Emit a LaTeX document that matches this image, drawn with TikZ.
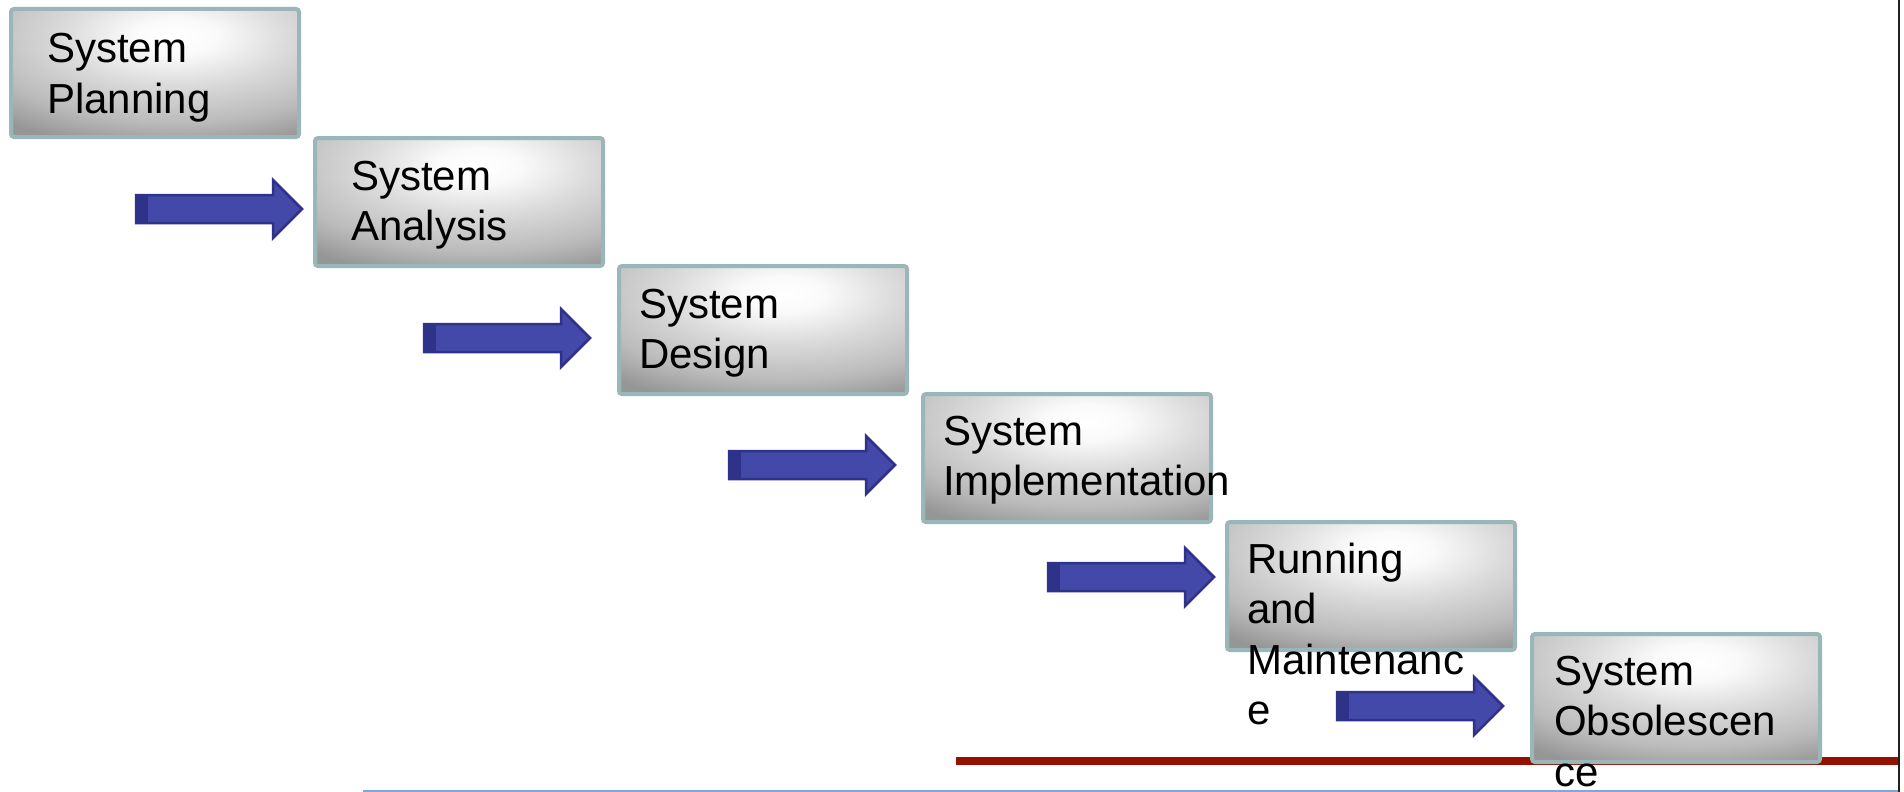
\documentclass[tikz,border=0pt]{standalone}
\usepackage{fontspec}
\setmainfont{Liberation Sans}
\definecolor{boxedge}{HTML}{99B6B8}
\definecolor{boxmid}{HTML}{DADADA}
\definecolor{boxside}{HTML}{BBBBBB}
\definecolor{boxdark}{HTML}{969696}
\definecolor{arrowfill}{HTML}{4349A8}
\definecolor{arrowedge}{HTML}{2E3288}
\definecolor{rulered}{HTML}{951000}
\definecolor{ruleblue}{HTML}{7EA6E0}
% soft highlight laid over the grey fill of each box
% (the shaded path is fitted to the central 50bp square, so 25bp is its rim)
\pgfdeclareradialshading{boxglow}{\pgfpoint{0bp}{0bp}}{%
  color(0bp)=(white); color(4bp)=(white!98!black); color(11bp)=(boxmid);
  color(19bp)=(boxside); color(25bp)=(boxdark); color(50bp)=(boxdark)}
\tikzset{
  stepbox/.style={rectangle, rounded corners=3pt, draw=boxedge, line width=4pt,
    minimum width=288pt, minimum height=128pt, inner sep=0pt, fill=boxdark,
    path picture={\shade[shading=boxglow]
      ([xshift=20pt,yshift=-28pt]path picture bounding box.north)
      ellipse [x radius=260pt, y radius=112pt];}},
  steptext/.style={anchor=base west, inner sep=0pt, text=black,
    font=\fontsize{42}{50.5}\selectfont},
  pics/blockarrow/.style={code={
    \fill[arrowfill, draw=arrowedge, line width=2.5pt, line join=miter]
      (0,-14) -- (137,-14) -- (137,-29) -- (166,0) -- (137,29) -- (137,14) -- (0,14) -- cycle;
    \fill[arrowedge] (0,-15.25) rectangle (12,15.25);
  }}
}
\begin{document}
\begin{tikzpicture}[x=1pt, y=-1pt]
\useasboundingbox[fill=white] (0,0) rectangle (1904,792);

% rules along the bottom and right edge
\draw[line width=8pt, rulered] (956,761) -- (1898,761);
\draw[line width=1.5pt, ruleblue] (363,791) -- (1898,791);
\draw[line width=2.5pt, black!87] (1899,0) -- (1899,792);

% the six stages
\node[stepbox] (b1) at (155,73) {};
\node[stepbox] (b2) at (459,202) {};
\node[stepbox] (b3) at (763,330) {};
\node[stepbox] (b4) at (1067,458) {};
\node[stepbox] (b5) at (1371,586) {};
\node[stepbox] (b6) at (1676,698) {};

% block arrows between the stages
\pic (a1) at (136,209) {blockarrow};
\pic (a2) at (424,338) {blockarrow};
\pic (a3) at (729,465) {blockarrow};
\pic (a4) at (1048,577) {blockarrow};
\pic (a5) at (1337,706) {blockarrow};

% stage names
\node[steptext] (t1) at (47,63) {\vtop{\hbox{System}\hbox{Planning}}};
\node[steptext] (t2) at (351,190) {\vtop{\hbox{System}\hbox{Analysis}}};
\node[steptext] (t3) at (639,318) {\vtop{\hbox{System}\hbox{Design}}};
\node[steptext] (t4) at (943,445) {\vtop{\hbox{System}\hbox{Implementation}}};
\node[steptext] (t5) at (1247,573) {\vtop{\hbox{Running}\hbox{and}\hbox{Maintenanc}\hbox{e}}};
\node[steptext] (t6) at (1554,685) {\vtop{\hbox{System}\hbox{Obsolescen}\hbox{ce}}};
\end{tikzpicture}
\end{document}
